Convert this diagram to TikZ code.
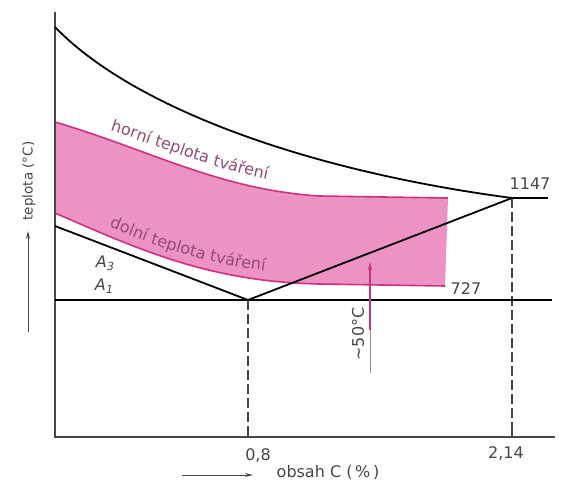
\documentclass[tikz,border=0pt]{standalone}
\usepackage{fontspec}
\setmainfont{DejaVu Sans}
\usetikzlibrary{arrows.meta,decorations.text}
\definecolor{pinkfill}{RGB}{236,146,196}
\definecolor{pinkedge}{RGB}{208,48,128}
\definecolor{lblcol}{RGB}{145,75,120}
\definecolor{ink}{RGB}{70,70,70}
\tikzset{
  blk/.style={black, line width=1.8pt},
  axisline/.style={ink, line width=1.2pt},
  dashline/.style={ink, line width=1.1pt, dash pattern=on 10pt off 4pt},
  edge/.style={pinkedge, line width=1.6pt},
  lab/.style={ink, font=\fontsize{16}{18}\selectfont, inner sep=0pt},
  arr/.style={ink, line width=1pt, -{Stealth[length=8pt,width=4pt]}},
}
\begin{document}
\begin{tikzpicture}[x=1pt,y=-1pt]
\useasboundingbox (0,0) rectangle (577,488);
\fill[white] (0,0) rectangle (577,488);

% pink band
\fill[pinkfill] (55,122) .. controls (150,150) and (220,190) .. (320,196) -- (448,198)
  -- (445,286) -- (320,284) .. controls (210,282) and (140,250) .. (55,213) -- cycle;
\draw[edge] (55,122) .. controls (150,150) and (220,190) .. (320,196) -- (448,198);
\draw[edge] (445,286) -- (320,284) .. controls (210,282) and (140,250) .. (55,213);

% band labels
\path[decorate, decoration={text along path, text align=center,
  text={|\fontsize{16}{18}\selectfont\color{lblcol}|horní teplota tváření}}]
  (88,124) .. controls (150,141) and (215,173) .. (290,183);
\path[decorate, decoration={text along path, text align=center,
  text={|\fontsize{16}{18}\selectfont\color{lblcol}|dolní teplota tváření}}]
  (86,217) .. controls (150,245) and (210,268) .. (290,273);

% key points
\coordinate (T0) at (55,27);
\coordinate (A3s) at (55,226);
\coordinate (E) at (248,300);
\coordinate (C) at (512,198);
\coordinate (Cr) at (548,198);
\coordinate (A1s) at (55,300);
\coordinate (A1e) at (552,300);
\coordinate (O) at (55,437);
\coordinate (Ytop) at (55,12);
\coordinate (Xend) at (555,437);
\coordinate (Eb) at (248,437);
\coordinate (Cb) at (512,437);

% axes
\draw[axisline] (Ytop) -- (O) -- (Xend);

% dashed verticals
\draw[dashline] (E) -- (Eb);
\draw[dashline] (C) -- (Cb);
\draw[ink, line width=1.2pt] (248,428) -- (Eb);
\draw[ink, line width=1.2pt] (512,428) -- (Cb);

% black lines
\draw[blk] (T0) .. controls (130,105) and (300,170) .. (C);
\draw[blk] (C) -- (Cr);
\draw[blk] (A3s) -- (E) -- (C);
\draw[blk] (A1s) -- (A1e);

% 50 C arrow
\coordinate (m0) at (370,373);
\coordinate (m1) at (370,330);
\coordinate (m2) at (370,262);
\draw[ink!60, line width=0.9pt] (m0) -- (m1);
\draw[pinkedge, line width=1.5pt, -{Stealth[length=8pt,width=4pt]}] (m1) -- (m2);
\node[lab, rotate=90] (l50) at (358,334) {\textasciitilde 50°C};

% labels
\node[lab] (l1147) at (530,184) {1147};
\node[lab] (l727) at (466,289) {727};
\node[lab] (l08) at (258,455) {0,8};
\node[lab] (l214) at (506,453) {2,14};
\node[lab] (lx) at (328,472) {obsah C (\,\%\,)};
\node[lab, font=\fontsize{13.5}{15}\selectfont, rotate=90] (ly) at (29,181) {teplota (°C)};
\node[lab] (lA3) at (105,263) {\itshape A\kern0.3pt\raisebox{-2.5pt}{\fontsize{11}{13}\selectfont 3}};
\node[lab] (lA1) at (104,286) {\itshape A\kern0.3pt\raisebox{-2.5pt}{\fontsize{11}{13}\selectfont 1}};

% axis arrows
\coordinate (xa0) at (182,475);
\coordinate (xa1) at (253,475);
\draw[arr] (xa0) -- (xa1);
\coordinate (ya0) at (28,332);
\coordinate (ya1) at (28,231);
\draw[arr] (ya0) -- (ya1);
\end{tikzpicture}
\end{document}
